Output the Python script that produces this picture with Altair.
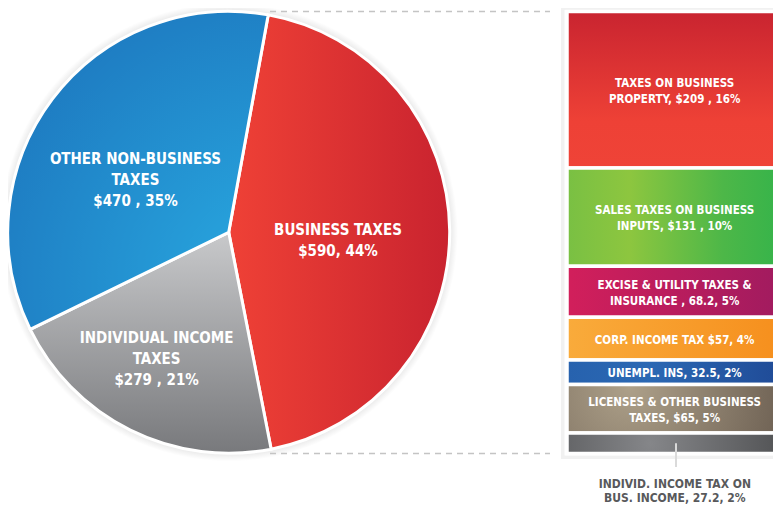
import math
import altair as alt
import pandas as pd

# ---------------- data ----------------
pie_names = ["BUSINESS TAXES", "INDIVIDUAL INCOME TAXES", "OTHER NON-BUSINESS TAXES"]
pie_values = [590, 279, 470]
pie_labels = [
    "BUSINESS TAXES\n$590, 44%",
    "INDIVIDUAL INCOME\nTAXES\n$279 , 21%",
    "OTHER NON-BUSINESS\nTAXES\n$470 , 35%",
]

bar_names = ["Property", "Sales", "Excise", "Corp", "Unempl", "Licenses", "Individ"]
bar_values = [209, 131, 68.2, 57, 32.5, 65, 27.2]
bar_labels = [
    "TAXES ON BUSINESS\nPROPERTY,  $209 , 16%",
    "SALES TAXES ON BUSINESS\nINPUTS,  $131 , 10%",
    "EXCISE & UTILITY TAXES &\nINSURANCE , 68.2, 5%",
    "CORP. INCOME TAX  $57, 4%",
    "UNEMPL. INS, 32.5, 2%",
    "LICENSES & OTHER BUSINESS\nTAXES, $65, 5%",
    "",
]
bar_notes = ["", "", "", "", "", "", "INDIVID. INCOME TAX ON\nBUS. INCOME, 27.2, 2%"]

PIE_TOTAL = sum(pie_values)
BAR_TOTAL = sum(bar_values)

# ---------------- styles ----------------
FONT = "DejaVu Sans Condensed, Liberation Sans Narrow, sans-serif"
CX, CY, R = 220.7, 224.3, 221
OFF = math.radians(10.3)


def lin(stops, x1=0, y1=0, x2=1, y2=0):
    return {"gradient": "linear", "x1": x1, "y1": y1, "x2": x2, "y2": y2,
            "stops": [{"offset": o, "color": c} for o, c in stops]}


def rad(stops, x, y, r2):
    return {"gradient": "radial", "x1": x, "y1": y, "r1": 0, "x2": x, "y2": y, "r2": r2,
            "stops": [{"offset": o, "color": c} for o, c in stops]}


pie_grads = [
    lin([(0, "#ef4136"), (1, "#c9232f")]),
    lin([(0, "#c8c9cb"), (1, "#78797c")], 0.5, 0, 0.5, 1),
    rad([(0, "#29abe2"), (1, "#1e7cc2")], 0.95, 0.85, 0.95),
]
bar_grads = [
    lin([(0, "#c92430"), (0.7, "#ee4136"), (1, "#ef4337")], 0, 0, 0, 1),
    lin([(0, "#79c043"), (0.3, "#8dc63f"), (0.75, "#4db748"), (1, "#38b44a")]),
    lin([(0, "#d21f5b"), (1, "#a21b5f")]),
    lin([(0, "#f9ab3b"), (1, "#f6901e")]),
    lin([(0, "#2762ae"), (0.4, "#2b68b3"), (1, "#204c98")]),
    rad([(0, "#ada089"), (1, "#6b5e51")], 0.3, 0.4, 0.8),
    rad([(0, "#858689"), (1, "#4d4e50")], 0.4, 0.5, 0.7),
]


def fill_cond(names, grads):
    conds = [{"test": f"datum.name === '{n}'", "value": g} for n, g in zip(names[:-1], grads[:-1])]
    return alt.FillValue(value=grads[-1], condition=conds)


# ---------------- pie ----------------
pie_df = pd.DataFrame({"name": pie_names, "value": pie_values, "label": pie_labels,
                       "order": list(range(len(pie_names)))})
pie_base = (
    alt.Chart(pie_df)
    .transform_stack(stack="value", as_=["v0", "v1"], groupby=[],
                     sort=[alt.SortField("order", order="ascending")])
    .transform_calculate(mid="(datum.v0 + datum.v1) / 2")
)
theta_scale = alt.Scale(domain=[0, PIE_TOTAL], range=[OFF, OFF + 2 * math.pi])

halo = alt.Chart(pd.DataFrame({"a": [0]})).mark_arc(
    theta=0, theta2=2 * math.pi, outerRadius=R + 8,
    fill=rad([(0, "#e2e2e2"), (0.955, "#e2e2e2"), (1, "#ffffff")], 0.5, 0.5, 0.5),
).encode(x=alt.value(CX), y=alt.value(CY))

pie = pie_base.mark_arc(outerRadius=R, stroke="white", strokeWidth=3).encode(
    x=alt.value(CX), y=alt.value(CY),
    theta=alt.Theta("v0:Q", scale=theta_scale),
    theta2="v1:Q",
    fill=fill_cond(pie_names, pie_grads),
)


def pie_text(name, r, dx, dy):
    return pie_base.transform_filter(alt.datum.name == name).mark_text(
        radius=r, dx=dx, dy=dy, font=FONT, fontSize=15, fontWeight="bold",
        color="white", lineBreak="\n", lineHeight=21, align="center", baseline="middle",
    ).encode(
        x=alt.value(CX), y=alt.value(CY),
        theta=alt.Theta("mid:Q", scale=theta_scale),
        text="label:N",
    )


pie_texts = [
    pie_text(pie_names[0], 110, -0.7, 9 - 10.5),
    pie_text(pie_names[1], 146, -7.1, -4.1 - 21),
    pie_text(pie_names[2], 107, -7.9, 12.7 - 21),
]

# ---------------- stacked bar ----------------
bar_df = pd.DataFrame({"name": bar_names, "value": bar_values, "label": bar_labels,
                       "note": bar_notes, "order": list(range(len(bar_names)))})
bar_base = (
    alt.Chart(bar_df)
    .transform_stack(stack="value", as_=["v0", "v1"], groupby=[],
                     sort=[alt.SortField("order", order="ascending")])
    .transform_calculate(mid="(datum.v0 + datum.v1) / 2")
)
y_scale = alt.Scale(domain=[0, BAR_TOTAL], range=[3.5, 445.5])

shadow = alt.Chart(pd.DataFrame({"a": [0]})).mark_rect(fill="#f1f1f1").encode(
    x=alt.value(553), x2=alt.value(766), y=alt.value(-2), y2=alt.value(451))
frame = alt.Chart(pd.DataFrame({"a": [0]})).mark_rect(fill="#ffffff").encode(
    x=alt.value(556.5), x2=alt.value(766), y=alt.value(2), y2=alt.value(447.5))

bars = bar_base.mark_rect(stroke="white", strokeWidth=3.5).encode(
    x=alt.value(559), x2=alt.value(767),
    y=alt.Y("v0:Q", scale=y_scale, axis=None),
    y2="v1:Q",
    fill=fill_cond(bar_names, bar_grads),
)


def bar_text(test, dy):
    return bar_base.transform_filter(test).mark_text(
        font=FONT, fontSize=11.5, fontWeight="bold", color="white", lineBreak="\n",
        lineHeight=16, align="center", baseline="middle", dy=dy,
    ).encode(
        x=alt.value(666.6),
        y=alt.Y("mid:Q", scale=y_scale, axis=None),
        text="label:N",
    )


bar_text2 = bar_text("indexof(datum.label, '\\n') >= 0", 2 - 8)
bar_text1 = bar_text("indexof(datum.label, '\\n') < 0 && datum.label != ''", 2)

tick = bar_base.transform_filter(alt.datum.note != "").mark_rule(
    stroke="#dadada", strokeWidth=2
).encode(x=alt.value(668), y=alt.Y("mid:Q", scale=y_scale, axis=None), y2=alt.value(459))

note = bar_base.transform_filter(alt.datum.note != "").mark_text(
    font=FONT, fontSize=12, fontWeight="bold", color="#58595b", lineBreak="\n",
    lineHeight=14, align="center", baseline="middle", dy=30.5,
).encode(
    x=alt.value(666.8),
    y=alt.Y("v1:Q", scale=y_scale, axis=None),
    text="note:N",
)

dash_df = pd.DataFrame({"edge": [0, BAR_TOTAL]})
dashes = alt.Chart(dash_df).mark_rule(stroke="#c4c4c4", strokeWidth=1.5, strokeDash=[6, 5]).encode(
    x=alt.value(262), x2=alt.value(542),
    y=alt.Y("edge:Q", scale=y_scale, axis=None),
)

chart = alt.layer(
    halo, pie, *pie_texts, dashes, shadow, frame, bars, bar_text2, bar_text1, tick, note
).properties(
    width=765, height=496, padding=0, autosize="none", background="white"
).configure_view(stroke=None)

chart.save("out.html", embed_options={"renderer": "svg", "actions": False})
